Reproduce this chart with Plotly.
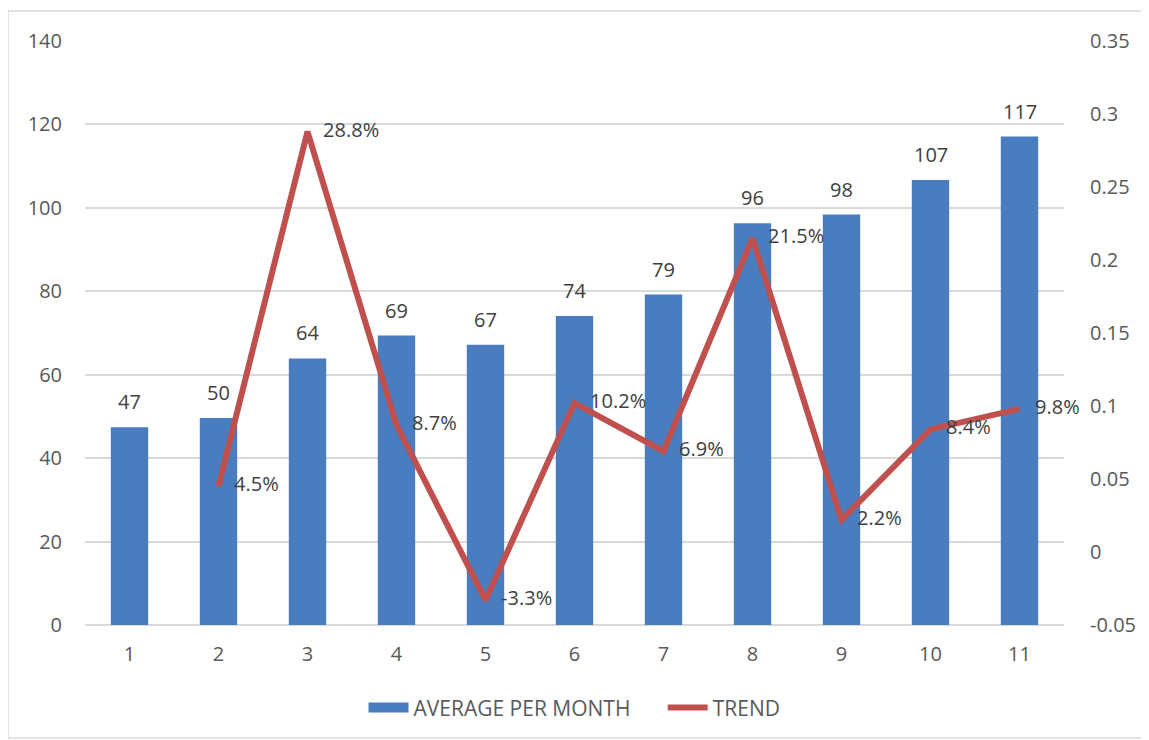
import plotly.graph_objects as go

months = [1, 2, 3, 4, 5, 6, 7, 8, 9, 10, 11]
avg_per_month = [47.4, 49.6, 63.9, 69.4, 67.2, 74.1, 79.2, 96.3, 98.4, 106.7, 117.1]
trend_months = [2, 3, 4, 5, 6, 7, 8, 9, 10, 11]
trend = [0.045, 0.288, 0.087, -0.033, 0.102, 0.069, 0.215, 0.022, 0.084, 0.098]
right_ticks = [-0.05, 0, 0.05, 0.1, 0.15, 0.2, 0.25, 0.3, 0.35]
right_tick_labels = ["-0.05", "0", "0.05", "0.1", "0.15", "0.2", "0.25", "0.3", "0.35"]

FONT = "Open Sans"
TXT = "#595959"
LBL = "#404040"
BLUE = "#4A7DC0"
RED = "#C0504D"

fig = go.Figure()
fig.add_trace(go.Bar(
    x=months, y=avg_per_month, name="AVERAGE PER MONTH",
    marker=dict(color=BLUE, line=dict(width=0)),
    showlegend=False,
))
# legend entry drawn as a wide blue swatch
fig.add_trace(go.Scatter(
    x=[None], y=[None], name="AVERAGE PER MONTH" + "\u00a0" * 5, mode="lines",
    line=dict(color=BLUE, width=12), showlegend=True,
))
fig.add_trace(go.Scatter(
    x=trend_months, y=trend, name="TREND", yaxis="y2",
    mode="lines+text", line=dict(color=RED, width=6),
    texttemplate="\u00a0\u00a0\u00a0%{y:.1%}", textposition="middle right",
    textfont=dict(family=FONT, size=20, color=LBL),
    cliponaxis=False,
))

annotations = [
    dict(x=m, y=v, xref="x", yref="y", text=f"{v:.0f}", showarrow=False,
         yanchor="bottom", yshift=10, font=dict(family=FONT, size=20, color=LBL))
    for m, v in zip(months, avg_per_month)
]

fig.update_layout(
    width=1149, height=740,
    margin=dict(l=77, r=93, t=33, b=123),
    paper_bgcolor="white", plot_bgcolor="white",
    font=dict(family=FONT, size=20, color=TXT),
    bargap=0.58,
    showlegend=True,
    legend=dict(orientation="h", x=0.5, xanchor="center", y=-0.142, yanchor="middle",
                font=dict(family=FONT, size=21, color=TXT), traceorder="normal",
                itemwidth=40),
    xaxis=dict(tickmode="array", tickvals=months, range=[0.5, 11.5],
               showgrid=False, zeroline=False, showline=False,
               ticks="", ticklabelstandoff=15, tickfont=dict(size=20, color=TXT)),
    yaxis=dict(range=[0, 140], dtick=20, showgrid=True, gridcolor="#D9D9D9", gridwidth=1.5,
               zeroline=True, zerolinecolor="#D9D9D9", zerolinewidth=1.5, showline=False,
               ticks="", ticklabelstandoff=22, tickfont=dict(size=20, color=TXT)),
    yaxis2=dict(overlaying="y", side="right", range=[-0.05, 0.35],
                tickmode="array", tickvals=right_ticks, ticktext=right_tick_labels,
                showgrid=False, zeroline=False, showline=False,
                ticks="", ticklabelstandoff=25, tickfont=dict(size=20, color=TXT)),
    annotations=annotations,
    shapes=[dict(type="rect", xref="paper", yref="paper",
                 x0=-0.0787, x1=1.0858, y0=-0.1935, y1=1.0514,
                 line=dict(color="#D9D9D9", width=1.5), fillcolor="rgba(0,0,0,0)", layer="below")],
)

fig.write_html("out.html")
